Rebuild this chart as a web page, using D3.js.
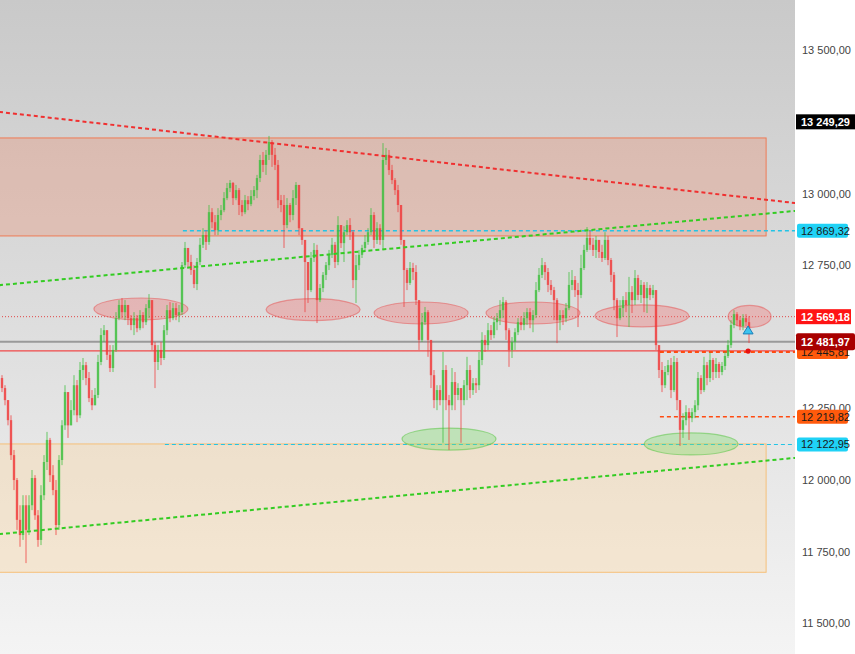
<!DOCTYPE html>
<html><head><meta charset="utf-8">
<script src="https://cdn.jsdelivr.net/npm/d3@7"></script>
<style>html,body{margin:0;padding:0;background:#fff;overflow:hidden}</style>
</head><body>
<svg id="chart" width="855" height="654"></svg>
<script>
// ---------------- DATA ----------------
const firstOpen = 12355;
const closes = [
12320,12278,12208,12086,11999,11860,11807,11911,11825,11911,
12006,11876,11790,11946,12062,12139,12016,11964,11842,12069,
12190,12306,12190,12243,12330,12225,12383,12400,12355,12285,
12260,12296,12411,12505,12522,12436,12390,12453,12564,12610,
12585,12610,12564,
12540,12564,12529,12575,12550,12599,12627,12470,12411,12453,
12425,12522,12592,12564,12599,12575,12585,12749,12809,12760,
12732,12683,12760,12820,12854,12830,12934,12899,12871,12924,
12941,12983,13018,13036,12983,13011,12959,12934,12976,12962,
12990,13011,13053,13116,13099,13134,13179,
13134,13099,12976,12959,12889,12959,12924,12983,13029,12878,
12837,12760,12662,12774,12802,12627,12669,12715,12749,12785,
12820,12760,12889,12826,12864,12889,12864,12697,12749,12785,
12809,12830,12864,12924,12837,12878,12837,13116,13134,13081,
13046,13011,12959,12837,12732,12687,12739,
12725,12627,12488,12550,12585,12488,12365,12278,12313,12278,
12383,12278,12260,12341,12296,12320,12278,12330,12383,12313,
12337,12330,12418,12488,12470,12522,12505,12550,12564,12592,
12620,12522,12453,12481,12515,
12550,12540,12564,12585,12557,12575,12662,12715,12749,12725,
12680,12662,12627,12557,12575,12564,12599,12680,12697,12662,
12645,12739,12802,12844,12820,12802,12837,12795,12774,12837,
12767,12715,12627,12564,12599,12627,12610,12655,12627,12704,
12645,12680,12634,12669,12645,
12662,12470,12383,12330,12376,12400,12313,12411,12278,12174,
12208,12236,12215,12236,12260,12355,12313,12400,12355,12418,
12376,12404,12376,12397,12432,12470,12540,12578,12557,12536,
12564,12550,12522
];
const highs = [
12365,12330,12278,12225,12104,12006,11911,11946,11946,11946,
12034,12016,11894,11981,12086,12167,12146,12051,11999,12086,
12208,12330,12296,12278,12365,12348,12411,12425,12411,12376,
12313,12320,12436,12529,12540,12522,12470,12470,12585,12627,
12634,12627,12610,
12575,12585,12575,12592,12585,12613,12648,12627,12481,12470,
12481,12540,12610,12620,12617,12617,12610,12760,12830,12802,
12785,12749,12774,12844,12878,12871,12959,12948,12924,12948,
12959,13004,13036,13046,13039,13029,13018,12976,12994,12990,
13011,13025,13064,13134,13144,13151,13200,
13186,13158,13116,12994,12994,12983,12966,13011,13039,13029,
12878,12837,12760,12795,12826,12820,12683,12725,12760,12802,
12844,12830,12920,12878,12885,12906,12913,12871,12785,12802,
12820,12854,12878,12948,12934,12899,12892,13175,13158,13151,
13099,13053,13029,12959,12837,12739,12760,
12757,12749,12627,12582,12603,12592,12488,12383,12330,12330,
12446,12400,12296,12390,12376,12337,12313,12348,12429,12400,
12355,12355,12446,12515,12505,12547,12540,12568,12582,12627,
12638,12627,12529,12498,12529,
12564,12571,12585,12599,12599,12592,12690,12739,12774,12760,
12739,12697,12673,12634,12592,12592,12617,12725,12732,12711,
12687,12785,12820,12882,12871,12844,12851,12837,12820,12864,
12851,12774,12725,12634,12627,12641,12655,12708,12676,12732,
12715,12697,12690,12690,12680,
12680,12662,12470,12411,12397,12418,12425,12432,12425,12278,
12232,12260,12250,12250,12278,12376,12365,12429,12411,12443,
12425,12425,12411,12411,12446,12488,12557,12592,12585,12571,
12578,12578,12571
];
const lows = [
12306,12260,12190,12069,11964,11825,11766,11790,11709,11807,
11894,11860,11766,11772,11929,12034,11992,11946,11807,11825,
12051,12174,12146,12190,12225,12201,12215,12348,12330,12271,
12243,12260,12285,12400,12481,12418,12376,12376,12446,12557,
12564,12557,12540,
12522,12505,12515,12522,12529,12540,12564,12453,12320,12383,
12400,12418,12505,12550,12557,12557,12550,12575,12739,12739,
12715,12669,12662,12749,12809,12802,12820,12878,12854,12854,
12906,12934,12976,13004,12959,12976,12924,12920,12927,12941,
12955,12976,12983,13039,13074,13064,13116,
13092,13081,12948,12934,12809,12878,12899,12906,12959,12854,
12820,12585,12617,12655,12760,12547,12620,12655,12697,12732,
12774,12739,12749,12809,12760,12854,12837,12669,12617,12732,
12774,12795,12820,12854,12809,12823,12820,12802,13099,13064,
13032,12994,12934,12820,12603,12662,12680,
12697,12610,12453,12481,12540,12429,12320,12250,12243,12260,
12129,12243,12104,12243,12243,12278,12129,12260,12278,12285,
12296,12303,12313,12400,12446,12453,12488,12494,12522,12540,
12564,12488,12394,12425,12453,
12505,12522,12522,12540,12529,12515,12564,12655,12704,12697,
12655,12645,12557,12477,12522,12540,12550,12592,12662,12638,
12533,12634,12732,12795,12802,12781,12774,12774,12760,12767,
12749,12690,12592,12498,12557,12568,12585,12533,12582,12610,
12627,12617,12585,12582,12627,
12634,12453,12355,12306,12320,12365,12285,12306,12243,12118,
12146,12190,12139,12201,12215,12243,12299,12306,12330,12341,
12348,12355,12355,12365,12383,12425,12460,12529,12536,12522,
12522,12536,12477
];
const yTicks = [11500,11750,12000,12250,12500,12750,13000,13250,13500];

// zones: [startIndex, endIndex, topPrice, bottomPrice]
const resistanceZone = [-1, 254.7, 13193, 12851];
const supportZone = [-1, 254.7, 12125, 11677];

// trend lines: [[index, price], [index, price]]
const redTrend = [[-1, 13284], [265, 12965]];
const greenTrendUpper = [[-1, 12679], [265, 12939]];
const greenTrendLower = [[-1, 11810], [265, 12077]];

// horizontal levels
const levelPrices = [12869.32, 12122.95, 12569.18, 12481.97, 12450, 12445.81, 12219.82];
const levelStarts = [60.3, 54.3, -1, -1, -1, 219.3, 219.3];

// highlighted areas (ellipses): centre index, centre price
const redMarkIdx = [46.3, 103.7, 139.7, 177, 213.3, 249.2];
const redMarkPrice = [12596, 12594, 12582, 12582, 12572, 12570];
const greenMarkIdx = [149, 229.7];
const greenMarkPrice = [12142, 12125];

// price tags on the axis
const tagPrices = [13249.29, 12869.32, 12569.18, 12481.97, 12445.81, 12219.82, 12122.95];

// signals
const signalIdx = 248.7;
const signalPrice = 12523;
const dotPrice = 12449;

// ---------------- DRAW ----------------
const W = 855, H = 654, plotRight = 795;
const svg = d3.select("#chart");
const x = d3.scaleLinear().domain([0, closes.length - 1]).range([2, 749]);
const y = d3.scaleLinear().domain([11500, 13500]).range([623, 50]);

const defs = svg.append("defs");
const grad = defs.append("linearGradient").attr("id", "bg").attr("x1", 0).attr("y1", 0).attr("x2", 0).attr("y2", 1);
grad.append("stop").attr("offset", "0%").attr("stop-color", "#c9c9c9");
grad.append("stop").attr("offset", "50%").attr("stop-color", "#dedede");
grad.append("stop").attr("offset", "100%").attr("stop-color", "#f4f4f4");
defs.append("clipPath").attr("id", "plotClip").append("rect")
  .attr("x", 0).attr("y", 0).attr("width", plotRight).attr("height", H);

svg.append("rect").attr("x", 0).attr("y", 0).attr("width", W).attr("height", H).attr("fill", "#fff");
svg.append("rect").attr("x", 0).attr("y", 0).attr("width", plotRight).attr("height", H).attr("fill", "url(#bg)");

const plot = svg.append("g").attr("clip-path", "url(#plotClip)");

// zones
function zone(z, fill, stroke) {
  plot.append("rect")
    .attr("x", x(z[0])).attr("y", y(z[2]))
    .attr("width", x(z[1]) - x(z[0])).attr("height", y(z[3]) - y(z[2]))
    .attr("fill", fill).attr("stroke", stroke).attr("stroke-width", 1);
}
zone(resistanceZone, "rgba(235,140,110,0.32)", "#ef7a55");
zone(supportZone, "rgba(255,210,150,0.32)", "#f6c07a");

// horizontal levels
const levelStyles = [
  {c: "#22c4e6", w: 1.5, d: "4,3"},
  {c: "#22c4e6", w: 1.2, d: "4,3"},
  {c: "#e04848", w: 1, d: "1,2"},
  {c: "#9a9a9a", w: 2, d: null},
  {c: "#f04848", w: 1.3, d: null},
  {c: "#ff4a10", w: 2, d: "4,3"},
  {c: "#ff4a10", w: 1.5, d: "4,3"}
];
levelPrices.forEach((p, k) => {
  const s = levelStyles[k];
  const ln = plot.append("line")
    .attr("x1", x(levelStarts[k])).attr("x2", plotRight)
    .attr("y1", y(p)).attr("y2", y(p))
    .attr("stroke", s.c).attr("stroke-width", s.w);
  if (s.d) ln.attr("stroke-dasharray", s.d);
});

// ellipses
const ell = plot.append("g");
redMarkIdx.forEach((ix, k) => {
  const rx = k === redMarkIdx.length - 1 ? 21.5 : 47;
  ell.append("ellipse").attr("cx", x(ix)).attr("cy", y(redMarkPrice[k]))
    .attr("rx", rx).attr("ry", 11)
    .attr("fill", "rgba(240,110,110,0.35)").attr("stroke", "rgba(230,90,90,0.55)").attr("stroke-width", 1.2);
});
greenMarkIdx.forEach((ix, k) => {
  ell.append("ellipse").attr("cx", x(ix)).attr("cy", y(greenMarkPrice[k]))
    .attr("rx", 47).attr("ry", 11)
    .attr("fill", "rgba(130,220,110,0.38)").attr("stroke", "rgba(100,200,80,0.6)").attr("stroke-width", 1.2);
});

// candles
const candles = closes.map((c, i) => {
  const o = i === 0 ? firstOpen : closes[i - 1];
  return {i, o, c, h: Math.max(highs[i], o, c), l: Math.min(lows[i], o, c)};
});
const up = "#3cbf3c", dn = "#f03a3a";
const cg = plot.append("g");
cg.selectAll("line.w").data(candles).join("line")
  .attr("x1", d => x(d.i)).attr("x2", d => x(d.i))
  .attr("y1", d => y(d.h)).attr("y2", d => y(d.l))
  .attr("stroke", d => d.c >= d.o ? up : dn).attr("stroke-width", 1).attr("opacity", 0.75);
cg.selectAll("rect.b").data(candles).join("rect")
  .attr("x", d => x(d.i) - 1.2).attr("width", 2.4)
  .attr("y", d => y(Math.max(d.o, d.c)))
  .attr("height", d => Math.max(1, Math.abs(y(d.o) - y(d.c))))
  .attr("fill", d => d.c >= d.o ? up : dn).attr("opacity", 0.75);

// trend lines
const lineGen = d3.line().x(d => x(d[0])).y(d => y(d[1]));
plot.append("path").attr("d", lineGen(redTrend)).attr("fill", "none")
  .attr("stroke", "#f03030").attr("stroke-width", 2).attr("stroke-dasharray", "4,3");
plot.append("path").attr("d", lineGen(greenTrendUpper)).attr("fill", "none")
  .attr("stroke", "#33cc22").attr("stroke-width", 2).attr("stroke-dasharray", "4,3");
plot.append("path").attr("d", lineGen(greenTrendLower)).attr("fill", "none")
  .attr("stroke", "#33cc22").attr("stroke-width", 2).attr("stroke-dasharray", "4,3");

// signals
const sx = x(signalIdx), sy = y(signalPrice);
plot.append("path").attr("d", `M${sx - 5},${sy + 4} L${sx},${sy - 4} L${sx + 5},${sy + 4} Z`)
  .attr("fill", "#3cc4f0").attr("stroke", "#1d7fb8").attr("stroke-width", 1);
plot.append("circle").attr("cx", x(signalIdx)).attr("cy", y(dotPrice)).attr("r", 2.6).attr("fill", "#e81010");

// axis (tick labels fully hidden under a price tag are not drawn, as in the reference)
const loc = d3.formatLocale({decimal: ",", thousands: "\u00a0", grouping: [3], currency: ["", ""]});
const fmt = loc.format(",.2f");
const visibleTicks = yTicks.filter(t => tagPrices.every(p => Math.abs(y(p) - y(t)) > 7.5));
const axis = d3.axisRight(y).tickValues(visibleTicks).tickFormat(fmt).tickSize(0).tickPadding(0);
const ag = svg.append("g").attr("transform", `translate(802,0)`).call(axis);
ag.select(".domain").remove();
ag.selectAll("text").attr("font-family", "Liberation Sans, Arial, sans-serif")
  .attr("font-size", 11).attr("fill", "#444").attr("dy", "0.35em");

// price tags
const tagStyle = [
  {bg: "#000000", fg: "#ffffff", x0: 796, w: 59, h: 15, r: 0},
  {bg: "#1fd2f6", fg: "#1a1a1a", x0: 797, w: 51, h: 14, r: 2},
  {bg: "#ff1414", fg: "#ffffff", x0: 796, w: 55, h: 15, r: 0},
  {bg: "#a80000", fg: "#ffffff", x0: 796, w: 59, h: 17, r: 2},
  {bg: "#ff5a0c", fg: "#1a1a1a", x0: 797, w: 51, h: 14, r: 2},
  {bg: "#ff5a0c", fg: "#1a1a1a", x0: 797, w: 51, h: 14, r: 2},
  {bg: "#1fd2f6", fg: "#1a1a1a", x0: 797, w: 51, h: 14, r: 2}
];
const order = [0, 1, 2, 4, 3, 5, 6];
const tg = svg.append("g");
order.forEach(k => {
  const p = tagPrices[k], s = tagStyle[k];
  const cy = y(p);
  tg.append("rect").attr("x", s.x0).attr("y", cy - s.h / 2).attr("width", s.w).attr("height", s.h)
    .attr("rx", s.r).attr("fill", s.bg);
  tg.append("text").attr("x", 801).attr("y", cy).attr("dy", "0.35em")
    .attr("font-family", "Liberation Sans, Arial, sans-serif").attr("font-size", 11)
    .attr("font-weight", k === 3 || k === 0 || k === 2 ? "bold" : "normal")
    .attr("fill", s.fg).text(fmt(p));
});
</script>
</body></html>
